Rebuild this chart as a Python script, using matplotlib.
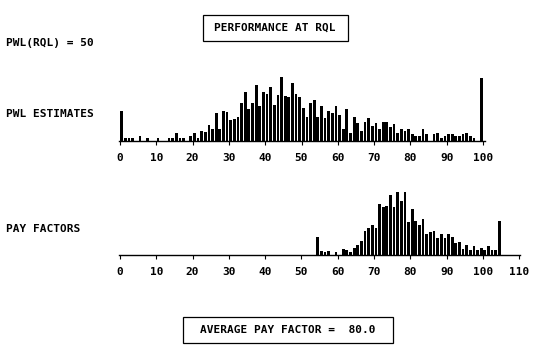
import matplotlib
matplotlib.use("Agg")
import matplotlib.pyplot as plt
from matplotlib.patches import Rectangle
import numpy as np

# ---------------- data ----------------
pwl_bins = np.arange(0, 100)
pwl_counts = [91, 8, 8, 8, 0, 14, 0, 8, 0, 0,
              8, 0, 0, 8, 8, 25, 8, 8, 0, 14,
              25, 8, 30, 27, 47, 36, 84, 36, 90, 88,
              62, 66, 72, 113, 146, 95, 112, 168, 104, 146,
              140, 162, 108, 136, 191, 135, 130, 172, 140, 130,
              98, 73, 113, 123, 73, 103, 68, 90, 85, 103,
              78, 35, 95, 25, 73, 53, 30, 58, 68, 46,
              53, 35, 57, 57, 41, 51, 25, 35, 31, 35,
              20, 15, 15, 35, 20, 0, 20, 25, 8, 15,
              20, 20, 15, 15, 20, 25, 15, 8, 0, 188]

pay_bins = np.arange(54, 105)
pay_counts = [56, 11, 8, 11, 0, 8, 0, 18, 14, 8,
              21, 30, 43, 73, 83, 92, 83, 154, 145, 148,
              183, 145, 191, 164, 191, 99, 139, 102, 91, 110,
              65, 70, 72, 51, 64, 51, 64, 55, 36, 38,
              19, 29, 14, 27, 14, 21, 16, 27, 14, 14,
              103]

pwl_ticks = list(range(0, 101, 10))
pay_ticks = list(range(0, 111, 10))

title_text = "PERFORMANCE AT RQL"
rql_text = "PWL(RQL) = 50"
top_label = "PWL ESTIMATES"
bottom_label = "PAY FACTORS"
avg_text = "AVERAGE PAY FACTOR =  80.0"

# ---------------- layout ----------------
W, H = 548, 352
fig = plt.figure(figsize=(W / 100, H / 100), dpi=100)
FONT = dict(family="DejaVu Sans Mono", weight="bold", size=8)
PX_PER_UNIT = 3.63
X0 = 120.0  # pixel of data value 0


def px_axes(left, top, width, height):
    return fig.add_axes([left / W, 1 - (top + height) / H, width / W, height / H])


def style(ax, ticks):
    for s in ("top", "right", "left"):
        ax.spines[s].set_visible(False)
    ax.spines["bottom"].set_linewidth(1.0)
    ax.set_yticks([])
    ax.set_xticks(ticks)
    ax.set_xticklabels([str(t) for t in ticks], fontdict=FONT)
    ax.tick_params(axis="x", direction="out", length=3, width=0.8, pad=5.5)
    ax.patch.set_alpha(0)


lo = -0.3
top_hi, bot_hi = 100.5, 110.3
ax1 = px_axes(X0 + lo * PX_PER_UNIT, 141 - 64, (top_hi - lo) * PX_PER_UNIT, 64)
ax1.bar(pwl_bins + 0.5, pwl_counts, width=0.76, color="black", linewidth=0)
ax1.set_xlim(lo, top_hi)
ax1.set_ylim(0, 191)
style(ax1, pwl_ticks)

ax2 = px_axes(X0 + lo * PX_PER_UNIT, 255 - 63, (bot_hi - lo) * PX_PER_UNIT, 63)
ax2.bar(pay_bins + 0.5, pay_counts, width=0.76, color="black", linewidth=0)
ax2.set_xlim(lo, bot_hi)
ax2.set_ylim(0, 191)
style(ax2, pay_ticks)


def ftext(x, y, s, **kw):
    fig.text(x / W, 1 - y / H, s, fontdict=FONT, **kw)


def fbox(x0, y0, x1, y1):
    fig.add_artist(Rectangle((x0 / W, 1 - y1 / H), (x1 - x0) / W, (y1 - y0) / H,
                             transform=fig.transFigure, fill=False,
                             edgecolor="black", linewidth=0.9))


ftext(6, 42.5, rql_text, ha="left", va="center")
ftext(6, 113.5, top_label, ha="left", va="center")
ftext(6, 229.5, bottom_label, ha="left", va="center")

fbox(202.5, 14.5, 348, 40.5)
ftext(275, 28, title_text, ha="center", va="center")

fbox(183, 317, 393, 342.5)
ftext(288, 330, avg_text, ha="center", va="center")

fig.savefig("out.png", dpi=100)
